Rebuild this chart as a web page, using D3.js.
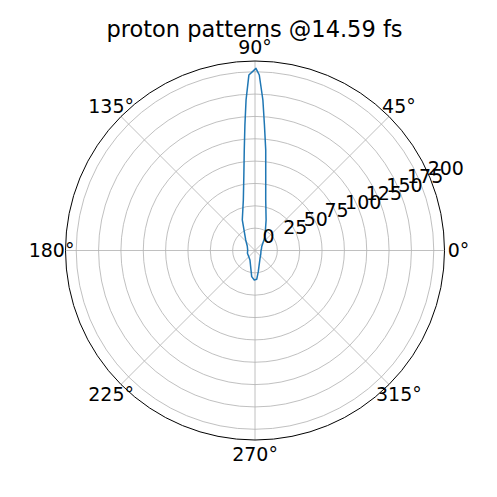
<!DOCTYPE html>
<html>
<head>
<meta charset="utf-8">
<script src="https://cdn.jsdelivr.net/npm/d3@7"></script>
<style>
  html, body { margin: 0; padding: 0; background: #fff; }
  text { font-family: "DejaVu Sans", sans-serif; fill: #000; }
</style>
</head>
<body>
<script>
// proton angular distribution (angle in degrees, radius)
const thetaDeg = [0, 15, 29.6, 54, 70, 78, 81.9, 83.9, 85.7, 87.0, 88.6, 89.7,
    92.0, 93.4, 94.6, 96.1, 98.4, 103, 112.6, 131.5, 150, 176, 200, 220, 242,
    262.8, 268.6, 273.4, 278.8, 302.7, 330, 360];
const radius = [6.7, 7.5, 8.6, 19, 36.3, 57.7, 85.3, 113, 140.8, 168.6, 196.4, 203.8,
    196.4, 168.7, 140.8, 113, 85.4, 58, 37, 15.7, 10, 8.2, 9, 9.5, 12,
    29.5, 33, 32.3, 24, 10.4, 7.5, 6.7];
const rTicks = [0, 25, 50, 75, 100, 125, 150, 175, 200];
const thetaTicks = [0, 45, 90, 135, 180, 225, 270, 315];
const rMax = 212;
const title = "proton patterns @14.59 fs";

const width = 497, height = 497;
const cx = 255, cy = 250.5, R = 189.5;

const svg = d3.select("body").append("svg")
    .attr("width", width)
    .attr("height", height);

const g = svg.append("g").attr("transform", `translate(${cx},${cy})`);

// radius and angle scales (angle: math degrees -> d3 radial angle)
const r = d3.scaleLinear().domain([0, rMax]).range([0, R]);
const a = d3.scaleLinear().domain([0, 360]).range([Math.PI / 2, Math.PI / 2 - 2 * Math.PI]);
const px = (deg, v) => r(v) * Math.sin(a(deg));
const py = (deg, v) => -r(v) * Math.cos(a(deg));

// grid circles
g.selectAll(".rgrid")
    .data(rTicks.filter(d => d > 0))
    .join("circle")
    .attr("r", d => r(d))
    .attr("fill", "none")
    .attr("stroke", "#b0b0b0")
    .attr("stroke-width", 0.8);

// spokes
g.selectAll(".tgrid")
    .data(thetaTicks)
    .join("line")
    .attr("x1", 0).attr("y1", 0)
    .attr("x2", d => px(d, rMax))
    .attr("y2", d => py(d, rMax))
    .attr("stroke", "#b0b0b0")
    .attr("stroke-width", 0.8);

// data line
const line = d3.lineRadial()
    .angle((d, i) => a(thetaDeg[i]))
    .radius(d => r(d));

g.append("path")
    .datum(radius)
    .attr("d", line)
    .attr("fill", "none")
    .attr("stroke", "#1f77b4")
    .attr("stroke-width", 1.5)
    .attr("stroke-linejoin", "round");

// outer frame
g.append("circle")
    .attr("r", r(rMax))
    .attr("fill", "none")
    .attr("stroke", "#000")
    .attr("stroke-width", 1);

// angle labels
g.selectAll(".tlabel")
    .data(thetaTicks)
    .join("text")
    .attr("x", d => px(d, rMax) + Math.cos(d * Math.PI / 180) * 14)
    .attr("y", d => py(d, rMax) - Math.sin(d * Math.PI / 180) * 14)
    .attr("text-anchor", "middle")
    .attr("dy", "0.36em")
    .style("font-size", "19px")
    .text(d => d + "\u00b0");

// radial labels along 22.5 degrees (they overlap in the original too)
g.selectAll(".rlabel")
    .data(rTicks)
    .join("text")
    .attr("x", d => px(22.5, d) + 7.5)
    .attr("y", d => py(22.5, d) - 7.5)
    .style("font-size", "19px")
    .text(d => d);

// title
svg.append("text")
    .attr("x", 254.5)
    .attr("y", 36.5)
    .attr("text-anchor", "middle")
    .style("font-size", "22.5px")
    .text(title);
</script>
</body>
</html>
